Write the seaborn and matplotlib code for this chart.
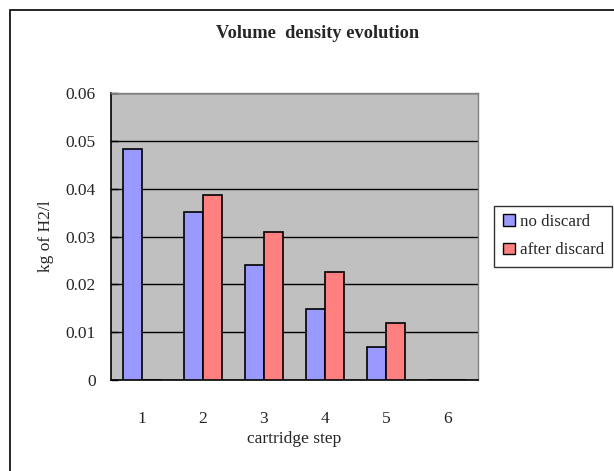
import pandas as pd
import matplotlib.pyplot as plt
import matplotlib.patches as mpatches
from matplotlib.ticker import FixedLocator
import seaborn as sns

steps = ["1", "2", "3", "4", "5", "6"]
no_discard = [0.0483, 0.0351, 0.0241, 0.0149, 0.0070, 0.0]
after_discard = [0.0, 0.0386, 0.0310, 0.0225, 0.0120, 0.0]
series = ["no discard", "after discard"]
colors = {"no discard": "#9999FF", "after discard": "#FF8080"}

df = pd.DataFrame({
    "step": steps * 2,
    "value": no_discard + after_discard,
    "series": [series[0]] * len(steps) + [series[1]] * len(steps),
})

sns.set_style("white")
plt.rcParams["font.family"] = ["Liberation Serif", "DejaVu Serif"]

fig = plt.figure(figsize=(6.14, 4.71), dpi=100)
ax = fig.add_axes([0.1808, 0.1932, 0.5977, 0.6093])

#grouped bars
sns.barplot(data=df, x="step", y="value", hue="series", order=steps,
            hue_order=series, palette=colors, saturation=1, errorbar=None,
            width=0.62, edgecolor="black", linewidth=1.2, ax=ax,
            legend=False, zorder=3)

ax.set_facecolor("#C0C0C0")
ax.set_ylim(0, 0.06)
ax.set_xlim(-0.5, 5.5)
ax.set_yticks([0, 0.01, 0.02, 0.03, 0.04, 0.05, 0.06])
ax.set_yticklabels(["0", "0.01", "0.02", "0.03", "0.04", "0.05", "0.06"])
ax.yaxis.grid(True, color="black", linewidth=1.0, zorder=1)
ax.set_axisbelow(True)

ax.xaxis.set_minor_locator(FixedLocator([i + 0.5 for i in range(5)]))
ax.tick_params(axis="x", which="major", length=0, labelsize=12.5, pad=22)
ax.tick_params(axis="x", which="minor", direction="in", length=6,
               width=1, color="black")
ax.tick_params(axis="y", direction="in", length=5, width=1, color="black",
               labelsize=12.5, pad=11, left=True)

for side in ["left", "bottom"]:
    ax.spines[side].set_color("black")
    ax.spines[side].set_linewidth(1.2)
for side in ["top", "right"]:
    ax.spines[side].set_color("#808080")
    ax.spines[side].set_linewidth(1.0)

ax.set_xlabel("cartridge step", fontsize=12.5, labelpad=3)
ax.set_ylabel("kg of H2/l", fontsize=12.5, labelpad=8)
fig.text(0.517, 0.928, "Volume  density evolution", ha="center", va="center",
         fontsize=13.2, fontweight="bold")

handles = [mpatches.Patch(facecolor=colors[s], edgecolor="black", label=s)
           for s in series]
fig.legend(handles=handles, loc="upper left", bbox_to_anchor=(0.805, 0.563),
           frameon=True, fancybox=False, edgecolor="black", fontsize=12.2,
           handlelength=0.7, handleheight=0.7, handletextpad=0.3,
           borderpad=0.5, labelspacing=0.72, borderaxespad=0)

#outer chart frame
fig.patches.append(mpatches.Rectangle((10 / 614, -0.1), 1.2, 1.1 - 10 / 471,
                                      transform=fig.transFigure,
                                      fill=False, edgecolor="black",
                                      linewidth=1.2))

fig.savefig("out.png", dpi=100)
